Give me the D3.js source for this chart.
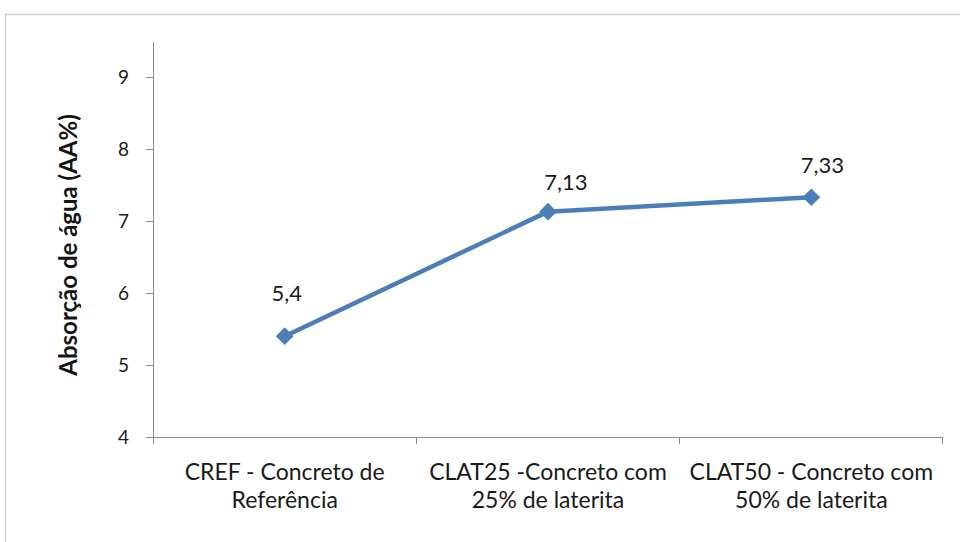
<!DOCTYPE html>
<meta charset="utf-8">
<style>
body { margin: 0; background: #fff; }
.axis path, .axis line { stroke: #8c8c8c; shape-rendering: crispEdges; }
.axis text { font: 19px Lato, "Open Sans", sans-serif; fill: #1a1a1a; }
</style>
<body>
<div id="chart"></div>
<script src="https://d3js.org/d3.v7.min.js"></script>
<script>
var categories = [["CREF - Concreto de", "Referência"], ["CLAT25 -Concreto com", "25% de laterita"], ["CLAT50 - Concreto com", "50% de laterita"]];
var values = [5.4, 7.13, 7.33];
var valueLabels = ["5,4", "7,13", "7,33"];
var yTicks = [4, 5, 6, 7, 8, 9];
// label nudges, as placed in the original chart
var labelOffsets = [[2, -35], [18, -22], [11, -24]];

var W = 960, H = 542;
var margin = {top: 41, left: 153, right: 17, bottom: 105};
var width = W - margin.left - margin.right,
    height = H - margin.top - margin.bottom;

var svg = d3.select("#chart").append("svg").attr("width", W).attr("height", H);

// chart frame
svg.append("rect").attr("x", 5.5).attr("y", 14.5).attr("width", 1000).attr("height", 600)
  .attr("fill", "none").attr("stroke", "#cfcfcf").attr("stroke-width", 1.5);

var g = svg.append("g").attr("transform", "translate(" + margin.left + "," + margin.top + ")");

var x = d3.scaleBand().domain(d3.range(categories.length)).range([0, width]);
var y = d3.scaleLinear().domain([4, 9.5]).range([height, 0]);

var yAxis = g.append("g").attr("class", "axis")
  .call(d3.axisLeft(y).tickValues(yTicks).tickSize(7).tickPadding(17).tickFormat(d3.format("d")));
yAxis.select(".domain").attr("d", "M0.5," + height + "V0.5");

var xAxis = g.append("g").attr("class", "axis").attr("transform", "translate(0," + height + ")")
  .call(d3.axisBottom(x).tickSize(0).tickFormat(""));
xAxis.selectAll(".tick").remove();
xAxis.select(".domain").attr("d", "M0," + 0.5 + "H" + width);
// category boundary ticks
g.selectAll(".xtick").data(d3.range(categories.length + 1)).enter().append("line")
  .attr("x1", function(d) { return d === categories.length ? width - 0.5 : (x(d) | 0) + 0.5; })
  .attr("x2", function(d) { return d === categories.length ? width - 0.5 : (x(d) | 0) + 0.5; })
  .attr("y1", height).attr("y2", height + 7)
  .attr("stroke", "#8c8c8c");

// category labels
var labs = g.selectAll(".xlab").data(categories).enter().append("text")
  .attr("text-anchor", "middle")
  .attr("transform", function(d, i) { return "translate(" + (x(i) + x.bandwidth() / 2) + "," + (height + 43) + ")"; })
  .style("font", "23px Lato, 'Open Sans', sans-serif").style("fill", "#1a1a1a");
labs.selectAll("tspan").data(function(d) { return d; }).enter().append("tspan")
  .attr("x", 0).attr("dy", function(d, i) { return i === 0 ? 0 : 28; })
  .text(function(d) { return d; });

// y title
svg.append("text")
  .attr("transform", "translate(77,245) rotate(-90)")
  .attr("text-anchor", "middle")
  .style("font", "bold 24px Lato, 'Open Sans', sans-serif").style("fill", "#141414")
  .text("Absorção de água (AA%)");

var line = d3.line()
  .x(function(d, i) { return x(i) + x.bandwidth() / 2; })
  .y(function(d) { return y(d); });

g.append("path").datum(values)
  .attr("d", line).attr("fill", "none")
  .attr("stroke", "#4a7ebb").attr("stroke-width", 4.5).attr("stroke-linejoin", "round");

g.selectAll(".pt").data(values).enter().append("path")
  .attr("d", d3.symbol().type(d3.symbolDiamond2).size(200))
  .attr("transform", function(d, i) { return "translate(" + (x(i) + x.bandwidth() / 2) + "," + y(d) + ")"; })
  .attr("fill", "#4a7ebb");

g.selectAll(".vlab").data(values).enter().append("text")
  .attr("x", function(d, i) { return x(i) + x.bandwidth() / 2 + labelOffsets[i][0]; })
  .attr("y", function(d, i) { return y(d) + labelOffsets[i][1]; })
  .attr("text-anchor", "middle")
  .style("font", "22px Lato, 'Open Sans', sans-serif").style("fill", "#1a1a1a")
  .text(function(d, i) { return valueLabels[i]; });
</script>
</body>
